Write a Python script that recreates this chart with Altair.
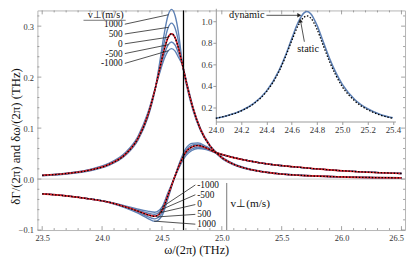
import altair as alt
import pandas as pd
import numpy as np

# ---------------- data ----------------
V_VALUES = [1000, 500, 0, -500, -1000]

X_PEAK = [23.5, 23.7, 23.9, 24.05, 24.2, 24.3, 24.38, 24.44, 24.48, 24.52, 24.55, 24.58, 24.61,
          24.64, 24.67, 24.71, 24.76, 24.82, 24.9, 25.0, 25.1, 25.25, 25.45, 25.7, 26.0, 26.5]
PEAK = {
    1000: [0.0066, 0.0099, 0.0163, 0.0262, 0.0475, 0.0765, 0.119, 0.172, 0.227, 0.2865, 0.3203, 0.333, 0.3203,
           0.2841, 0.2277, 0.1788, 0.1345, 0.0961, 0.0642, 0.0406, 0.0278, 0.0175, 0.0107, 0.0065, 0.0041, 0.0023],
    500: [0.0070, 0.0105, 0.0171, 0.0272, 0.0488, 0.0783, 0.1215, 0.1735, 0.2201, 0.269, 0.296, 0.306, 0.296,
          0.2679, 0.2263, 0.1815, 0.1366, 0.0974, 0.0650, 0.0415, 0.0284, 0.0179, 0.0109, 0.0067, 0.0042, 0.0024],
    0: [0.0073, 0.0108, 0.0177, 0.0280, 0.0499, 0.0800, 0.1235, 0.1739, 0.2148, 0.2553, 0.2771, 0.285, 0.2771,
        0.2553, 0.2253, 0.1836, 0.1383, 0.0985, 0.0656, 0.0421, 0.0289, 0.0182, 0.0111, 0.0068, 0.0043, 0.0024],
    -500: [0.0076, 0.0113, 0.0184, 0.0291, 0.0515, 0.0820, 0.126, 0.1745, 0.2108, 0.2449, 0.2627, 0.269, 0.2627,
           0.2457, 0.2245, 0.1852, 0.1396, 0.0993, 0.0661, 0.0427, 0.0294, 0.0185, 0.0113, 0.0070, 0.0044, 0.0025],
    -1000: [0.0079, 0.0117, 0.0191, 0.0302, 0.0531, 0.0840, 0.1285, 0.1752, 0.2075, 0.2364, 0.251, 0.256, 0.251,
            0.2379, 0.2239, 0.1865, 0.1406, 0.1000, 0.0665, 0.0432, 0.0299, 0.0189, 0.0116, 0.0072, 0.0045, 0.0026],
}
PEAK_STATIC = [0.0073, 0.0108, 0.0177, 0.0280, 0.0499, 0.0800, 0.1235, 0.1739, 0.2148, 0.2553, 0.2771, 0.285,
               0.2771, 0.2553, 0.2253, 0.1836, 0.1383, 0.0985, 0.0656, 0.0421, 0.0289, 0.0182, 0.0111, 0.0068,
               0.0043, 0.0024]

X_DISP = [23.5, 23.7, 23.9, 24.05, 24.2, 24.3, 24.38, 24.44, 24.5, 24.55, 24.6, 24.65,
          24.7, 24.75, 24.8, 24.87, 24.95, 25.05, 25.2, 25.4, 25.6, 25.85, 26.1, 26.5]
DISP = {
    1000: [-0.0285, -0.0325, -0.039, -0.0455, -0.057, -0.067, -0.077, -0.083, -0.072, -0.038, 0.0, 0.034,
           0.060, 0.070, 0.071, 0.064, 0.053, 0.0455, 0.037, 0.029, 0.024, 0.019, 0.015, 0.011],
    500: [-0.029, -0.033, -0.039, -0.045, -0.056, -0.065, -0.0735, -0.078, -0.067, -0.035, 0.0, 0.032,
          0.0565, 0.0665, 0.0685, 0.0625, 0.0525, 0.045, 0.037, 0.029, 0.024, 0.019, 0.015, 0.011],
    0: [-0.029, -0.033, -0.039, -0.045, -0.055, -0.063, -0.070, -0.073, -0.062, -0.032, 0.0, 0.030,
        0.053, 0.063, 0.066, 0.061, 0.052, 0.045, 0.037, 0.029, 0.024, 0.019, 0.015, 0.011],
    -500: [-0.029, -0.033, -0.039, -0.045, -0.054, -0.061, -0.0665, -0.069, -0.058, -0.029, 0.0, 0.028,
           0.0495, 0.059, 0.063, 0.0595, 0.0515, 0.045, 0.037, 0.029, 0.024, 0.019, 0.015, 0.011],
    -1000: [-0.029, -0.033, -0.039, -0.045, -0.053, -0.059, -0.063, -0.065, -0.055, -0.027, 0.0, 0.026,
            0.046, 0.056, 0.060, 0.058, 0.051, 0.045, 0.037, 0.029, 0.024, 0.019, 0.015, 0.011],
}
DISP_STATIC = [-0.029, -0.033, -0.039, -0.045, -0.055, -0.063, -0.070, -0.073, -0.062, -0.032, 0.0, 0.030,
               0.053, 0.063, 0.066, 0.061, 0.052, 0.045, 0.037, 0.029, 0.024, 0.019, 0.015, 0.011]

# inset
X_INSET = [24.0, 24.1, 24.2, 24.3, 24.4, 24.5, 24.55, 24.6, 24.65, 24.7, 24.72, 24.75,
           24.8, 24.85, 24.9, 25.0, 25.1, 25.2, 25.3, 25.4]
INSET_DYNAMIC = [0.10, 0.128, 0.170, 0.238, 0.352, 0.545, 0.680, 0.838, 0.988, 1.080, 1.090, 1.070,
                 0.962, 0.806, 0.651, 0.414, 0.272, 0.188, 0.136, 0.104]
INSET_STATIC = [0.10, 0.127, 0.168, 0.235, 0.346, 0.535, 0.668, 0.818, 0.958, 1.040, 1.050, 1.030,
                0.925, 0.773, 0.622, 0.393, 0.259, 0.179, 0.130, 0.100]

V_LINE_X = 24.68

# ticks / labels
X_MAJOR = [23.5, 24.0, 24.5, 25.0, 25.5, 26.0, 26.5]
Y_MAJOR = [-0.1, 0.0, 0.1, 0.2, 0.3]
INSET_X_TICKS = [24.0, 24.2, 24.4, 24.6, 24.8, 25.0, 25.2, 25.4]
INSET_Y_TICKS = [0.2, 0.4, 0.6, 0.8, 1.0]

# annotations (data coordinates)
TOP_LABELS = ["1000", "500", "0", "-500", "-1000"]
TOP_LABEL_Y = [0.3038, 0.2846, 0.2654, 0.2462, 0.2269]
TOP_LABEL_X = 24.172
TOP_LINE_X0 = 24.19
TOP_LINE_END_X = [24.555, 24.555, 24.555, 24.555, 24.555]
TOP_LINE_END_Y = [0.3224, 0.2977, 0.2784, 0.2637, 0.2518]

BOT_LABELS = ["-1000", "-500", "0", "500", "1000"]
BOT_LABEL_Y = [-0.0115, -0.0308, -0.0500, -0.0692, -0.0885]
BOT_LABEL_X = 24.795
BOT_LINE_X0 = 24.779
BOT_LINE_END_X = [24.50, 24.484, 24.476, 24.46, 24.435]
BOT_LINE_END_Y = [-0.055, -0.061, -0.0664, -0.0743, -0.0825]

# ---------------- layout ----------------
W, H = 375, 224
XDOM = [23.46, 26.53]
YDOM = [-0.1, 0.3308]
FONT = "Liberation Serif, Times New Roman, serif"
BLUE = "#5e81b5"
RED = "#e8262b"


def xs():
    return alt.Scale(domain=XDOM, nice=False, zero=False)


def ys():
    return alt.Scale(domain=YDOM, nice=False, zero=False)


def ixs():
    return alt.Scale(domain=[24.0, 25.42], range=[182, 365.2], nice=False, zero=False)


def iys():
    return alt.Scale(domain=[0.07, 1.12], range=[113.3, -2.2], nice=False, zero=False)


rows = []
for v in V_VALUES:
    for x, y in zip(X_PEAK, PEAK[v]):
        rows.append({"x": x, "y": y, "key": f"p{v}"})
    for x, y in zip(X_DISP, DISP[v]):
        rows.append({"x": x, "y": y, "key": f"d{v}"})
blue_df = pd.DataFrame(rows)

static_df = pd.DataFrame([{"x": x, "y": y, "key": "p"} for x, y in zip(X_PEAK, PEAK_STATIC)] +
                         [{"x": x, "y": y, "key": "d"} for x, y in zip(X_DISP, DISP_STATIC)])
red_df = pd.DataFrame([{"x": x, "y": y, "key": "p"} for x, y in zip(X_PEAK, PEAK[0])] +
                      [{"x": x, "y": y, "key": "d"} for x, y in zip(X_DISP, DISP[0])])

x_axis = alt.Axis(values=X_MAJOR, format=".1f", ticks=False, domain=False, grid=False,
                  labelFont=FONT, labelFontSize=8.5, labelColor="#333", labelPadding=4,
                  labelFlush=4.5, labelFlushOffset=2, labelOverlap=False,
                  title="ω/(2π) (THz)", titleFont=FONT, titleFontSize=12.5, titleFontWeight="normal",
                  titleColor="#111", titleX=162, titleY=24, titleBaseline="alphabetic")
y_axis = alt.Axis(values=Y_MAJOR, format=".1f", ticks=False, domain=False, grid=False,
                  labelFont=FONT, labelFontSize=8.5, labelColor="#333", labelPadding=4,
                  title="δΓ/(2π) and δω/(2π) (THz)", titleFont=FONT, titleFontSize=13,
                  titleFontWeight="normal", titleColor="#111", titleX=-22, titleY=128,
                  titleBaseline="middle")

layers = []


def XQ(f="x"):
    return alt.X(f + ":Q", scale=xs(), axis=None)


def YQ(f="y"):
    return alt.Y(f + ":Q", scale=ys(), axis=None)


# zero grid line
layers.append(alt.Chart(pd.DataFrame({"y": [0.0]})).mark_rule(color="#c8c8c8", strokeWidth=1).encode(
    y=YQ(), x=alt.value(0), x2=alt.value(W)))

# frame ticks
x_minor = [round(v, 2) for v in np.arange(23.5, 26.51, 0.1) if round(v, 2) not in X_MAJOR]
y_minor = [round(v, 3) for v in np.arange(-0.1, 0.33, 0.02)
           if round(v, 3) not in [round(t, 3) for t in Y_MAJOR]]
for vals, ln in [(X_MAJOR, 4), (x_minor, 2)]:
    d = pd.DataFrame({"t": vals})
    layers.append(alt.Chart(d).mark_rule(color="#888", strokeWidth=0.8).encode(
        x=XQ("t"), y=alt.value(H), y2=alt.value(H - ln)))
    layers.append(alt.Chart(d).mark_rule(color="#888", strokeWidth=0.8).encode(
        x=XQ("t"), y=alt.value(0), y2=alt.value(ln)))
for vals, ln in [(Y_MAJOR, 4), (y_minor, 2)]:
    d = pd.DataFrame({"t": vals})
    layers.append(alt.Chart(d).mark_rule(color="#888", strokeWidth=0.8).encode(
        y=YQ("t"), x=alt.value(0), x2=alt.value(ln)))
    layers.append(alt.Chart(d).mark_rule(color="#888", strokeWidth=0.8).encode(
        y=YQ("t"), x=alt.value(W), x2=alt.value(W - ln)))

# curves
layers.append(alt.Chart(blue_df).mark_line(color=BLUE, strokeWidth=1.4, interpolate="monotone").encode(
    x=alt.X("x:Q", scale=xs(), axis=x_axis), y=alt.Y("y:Q", scale=ys(), axis=y_axis), detail="key:N"))
layers.append(alt.Chart(red_df).mark_line(color=RED, strokeWidth=1.6, interpolate="monotone").encode(
    x=XQ(), y=YQ(), detail="key:N"))
layers.append(alt.Chart(static_df).mark_line(color="black", strokeWidth=1.3, strokeDash=[1.5, 1.8],
                                             interpolate="monotone").encode(
    x=XQ(), y=YQ(), detail="key:N"))
layers.append(alt.Chart(pd.DataFrame({"x": [V_LINE_X]})).mark_rule(color="black", strokeWidth=1.3).encode(
    x=XQ(), y=alt.value(0), y2=alt.value(H)))

# annotations main
seg_rows = []
for i in range(5):
    seg_rows.append({"x": TOP_LINE_X0, "y": TOP_LABEL_Y[i], "x2": TOP_LINE_END_X[i], "y2": TOP_LINE_END_Y[i]})
    seg_rows.append({"x": BOT_LINE_X0, "y": BOT_LABEL_Y[i], "x2": BOT_LINE_END_X[i], "y2": BOT_LINE_END_Y[i]})
layers.append(alt.Chart(pd.DataFrame(seg_rows)).mark_rule(color="#222", strokeWidth=0.8).encode(
    x=XQ(), y=YQ(), x2="x2:Q", y2="y2:Q"))

layers.append(alt.Chart(pd.DataFrame({"x": [TOP_LABEL_X] * 5, "y": TOP_LABEL_Y, "t": TOP_LABELS})).mark_text(
    align="right", baseline="middle", font=FONT, fontSize=9.5, color="#111").encode(
    x=XQ(), y=YQ(), text="t:N"))
layers.append(alt.Chart(pd.DataFrame({"x": [BOT_LABEL_X] * 5, "y": BOT_LABEL_Y, "t": BOT_LABELS})).mark_text(
    align="left", baseline="middle", font=FONT, fontSize=9.5, color="#111").encode(
    x=XQ(), y=YQ(), text="t:N"))
layers.append(alt.Chart(pd.DataFrame({"x": [24.03], "y": [0.3215], "t": ["v⊥(m/s)"]})).mark_text(
    align="center", baseline="middle", font=FONT, fontSize=10.5, color="#111").encode(
    x=XQ(), y=YQ(), text="t:N"))
layers.append(alt.Chart(pd.DataFrame({"x": [25.073], "y": [-0.050], "t": ["v⊥(m/s)"]})).mark_text(
    align="left", baseline="middle", font=FONT, fontSize=11.5, color="#111").encode(
    x=XQ(), y=YQ(), text="t:N"))
layers.append(alt.Chart(pd.DataFrame({"x": [23.845, 25.041], "y": [0.3115, -0.0077],
                                      "x2": [24.197, 25.041], "y2": [0.3115, -0.1]})).mark_rule(
    color="#777", strokeWidth=1).encode(x=XQ(), y=YQ(), x2="x2:Q", y2="y2:Q"))

# ---------------- inset ----------------
ix_axis = alt.Axis(orient="bottom", offset=-110.7, values=INSET_X_TICKS, format=".1f", grid=False,
                   domainColor="#999", tickColor="#999", tickSize=3, labelFont=FONT, labelFontSize=9,
                   labelColor="#333", labelPadding=1, labelFlush=False, labelOverlap=False, title=None)
iy_axis = alt.Axis(orient="left", offset=-182, values=INSET_Y_TICKS, format=".1f", grid=False,
                   domainColor="#999", tickColor="#999", tickSize=3, labelFont=FONT, labelFontSize=9,
                   labelColor="#333", labelPadding=1, title=None)


def IX(f="x"):
    return alt.X(f + ":Q", scale=ixs(), axis=None)


def IY(f="y"):
    return alt.Y(f + ":Q", scale=iys(), axis=None)


layers.append(alt.Chart(pd.DataFrame({"x": X_INSET, "y": INSET_DYNAMIC})).mark_line(
    color=BLUE, strokeWidth=1.6, interpolate="monotone").encode(
    x=alt.X("x:Q", scale=ixs(), axis=ix_axis), y=alt.Y("y:Q", scale=iys(), axis=iy_axis)))
layers.append(alt.Chart(pd.DataFrame({"x": X_INSET, "y": INSET_STATIC})).mark_line(
    color="black", strokeWidth=1.3, strokeDash=[1.5, 1.8], interpolate="monotone").encode(x=IX(), y=IY()))
layers.append(alt.Chart(pd.DataFrame({"x": [24.40, 24.70], "y": [1.055, 0.81],
                                      "x2": [24.655, 24.672], "y2": [1.055, 0.99]})).mark_rule(
    color="#222", strokeWidth=0.8).encode(x=IX(), y=IY(), x2="x2:Q", y2="y2:Q"))
layers.append(alt.Chart(pd.DataFrame({"x": [24.66], "y": [1.055]})).mark_point(
    shape="triangle-right", filled=True, color="#222", size=22, opacity=1).encode(x=IX(), y=IY()))
layers.append(alt.Chart(pd.DataFrame({"x": [24.668], "y": [1.005]})).mark_point(
    shape="triangle-up", filled=True, color="#222", size=22, opacity=1, angle=350).encode(x=IX(), y=IY()))
layers.append(alt.Chart(pd.DataFrame({"x": [24.385], "y": [1.055], "t": ["dynamic"]})).mark_text(
    align="right", baseline="middle", font=FONT, fontSize=10.5, color="#111").encode(
    x=IX(), y=IY(), text="t:N"))
layers.append(alt.Chart(pd.DataFrame({"x": [24.73], "y": [0.745], "t": ["static"]})).mark_text(
    align="center", baseline="middle", font=FONT, fontSize=10.5, color="#111").encode(
    x=IX(), y=IY(), text="t:N"))

chart = alt.layer(*layers).resolve_scale(x="independent", y="independent").properties(
    width=W, height=H, padding={"left": 30, "top": 0, "right": 2, "bottom": 25},
    autosize=alt.AutoSizeParams(type="none")
).configure_view(stroke="#b4b4b4", strokeWidth=1)

chart.save("out.html", embed_options={"renderer": "svg", "actions": False})
